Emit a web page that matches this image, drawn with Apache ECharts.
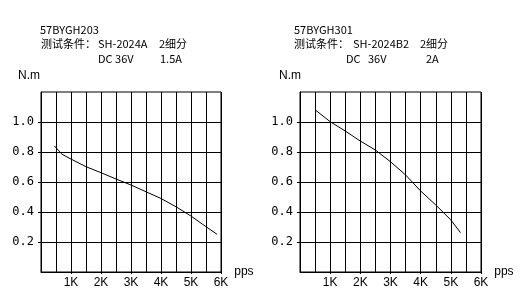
<!DOCTYPE html>
<html><head><meta charset="utf-8">
<script src="https://cdn.jsdelivr.net/npm/echarts@6/dist/echarts.min.js"></script>
<style>html,body{margin:0;padding:0;background:#fff}#c{width:532px;height:291px}</style>
</head><body><div id="c"></div>
<script>
const speed1 = [450, 700, 1000, 1500, 2000, 2500, 3000, 3500, 4000, 4500, 5000, 5500, 5870];
const torque1 = [0.84, 0.785, 0.753, 0.702, 0.662, 0.62, 0.58, 0.535, 0.49, 0.435, 0.373, 0.302, 0.251];
const speed2 = [510, 1000, 1500, 2000, 2500, 3000, 3500, 4000, 4500, 5000, 5320];
const torque2 = [1.08, 1.002, 0.94, 0.873, 0.813, 0.735, 0.647, 0.54, 0.447, 0.347, 0.262];
const yTickValues = [0.2, 0.4, 0.6, 0.8, 1.0];
const yTickLabels = ['0.2', '0.4', '0.6', '0.8', '1.0'];
const xTickValues = [1000, 2000, 3000, 4000, 5000, 6000];
const xTickLabels = ['1K', '2K', '3K', '4K', '5K', '6K'];
const titleLeft = ['57BYGH203', '测试条件：', 'SH-2024A', '2细分', 'DC 36V', '1.5A'];
const titleRight = ['57BYGH301', '测试条件：', 'SH-2024B2', '2细分', 'DC', '36V', '2A'];

const chart = echarts.init(document.getElementById('c'));
const tf = '"Noto Sans CJK SC", "DejaVu Sans Mono", monospace';
function txt(t, x, y) {
  return {type: 'text', left: x, top: y, style: {text: t, fill: '#000', font: '11px ' + tf}};
}
function xAx(gi) {
  return {
    type: 'value', gridIndex: gi, min: 0, max: 6000, interval: 1000,
    name: 'pps', nameLocation: 'end', nameGap: 7,
    nameTextStyle: {color: '#000', fontSize: 12, fontFamily: 'Liberation Sans', verticalAlign: 'middle', padding: [0,0,-2,0]},
    axisLine: {show: true, lineStyle: {color: '#000', width: 1}},
    axisTick: {show: true, length: 2, customValues: xTickValues, lineStyle: {color: '#000'}},
    axisLabel: {color: '#000', fontSize: 12, fontFamily: 'Liberation Sans', margin: 5,
      customValues: xTickValues,
      formatter: v => xTickLabels[xTickValues.indexOf(v)]},
    splitLine: {show: true, lineStyle: {color: '#000', width: 1}},
    minorTick: {show: false, splitNumber: 2},
    minorSplitLine: {show: true, lineStyle: {color: '#000', width: 1}}
  };
}
function yAx(gi) {
  return {
    type: 'value', gridIndex: gi, min: 0, max: 1.2, interval: 0.2,
    axisLine: {show: true, lineStyle: {color: '#000', width: 1}},
    axisTick: {show: true, length: 3, customValues: yTickValues, lineStyle: {color: '#000'}},
    axisLabel: {color: '#000', fontSize: 12, fontFamily: 'DejaVu Sans Mono', margin: 7,
      customValues: yTickValues,
      formatter: v => yTickLabels[yTickValues.indexOf(v)]},
    splitLine: {show: true, lineStyle: {color: '#000', width: 1}}
  };
}
chart.setOption({
  animation: false,
  backgroundColor: '#fff',
  grid: [
    {left: 41, top: 92, width: 180, height: 180, show: true, borderColor: '#000', borderWidth: 1},
    {left: 300, top: 92, width: 181, height: 180, show: true, borderColor: '#000', borderWidth: 1}
  ],
  xAxis: [xAx(0), xAx(1)],
  yAxis: [yAx(0), yAx(1)],
  series: [
    {type: 'line', xAxisIndex: 0, yAxisIndex: 0, showSymbol: false, smooth: false,
      lineStyle: {color: '#000', width: 1}, data: speed1.map((x, i) => [x, torque1[i]])},
    {type: 'line', xAxisIndex: 1, yAxisIndex: 1, showSymbol: false, smooth: false,
      lineStyle: {color: '#000', width: 1}, data: speed2.map((x, i) => [x, torque2[i]])}
  ],
  graphic: [
    txt(titleLeft[0], 40, 24),
    txt(titleLeft[1], 41, 38),
    txt(titleLeft[2], 98, 38),
    txt(titleLeft[3], 159, 38),
    txt(titleLeft[4], 98, 53),
    txt(titleLeft[5], 160, 53),
    txt(titleRight[0], 294, 24),
    txt(titleRight[1], 294, 38),
    txt(titleRight[2], 353, 38),
    txt(titleRight[3], 420, 38),
    txt(titleRight[4], 346, 53),
    txt(titleRight[5], 368, 53),
    txt(titleRight[6], 426, 53),
    {type: 'text', left: 18, top: 70, style: {text: 'N.m', fill: '#000', font: '12px "Liberation Sans"'}},
    {type: 'text', left: 279, top: 70, style: {text: 'N.m', fill: '#000', font: '12px "Liberation Sans"'}}
  ]
});
</script></body></html>
